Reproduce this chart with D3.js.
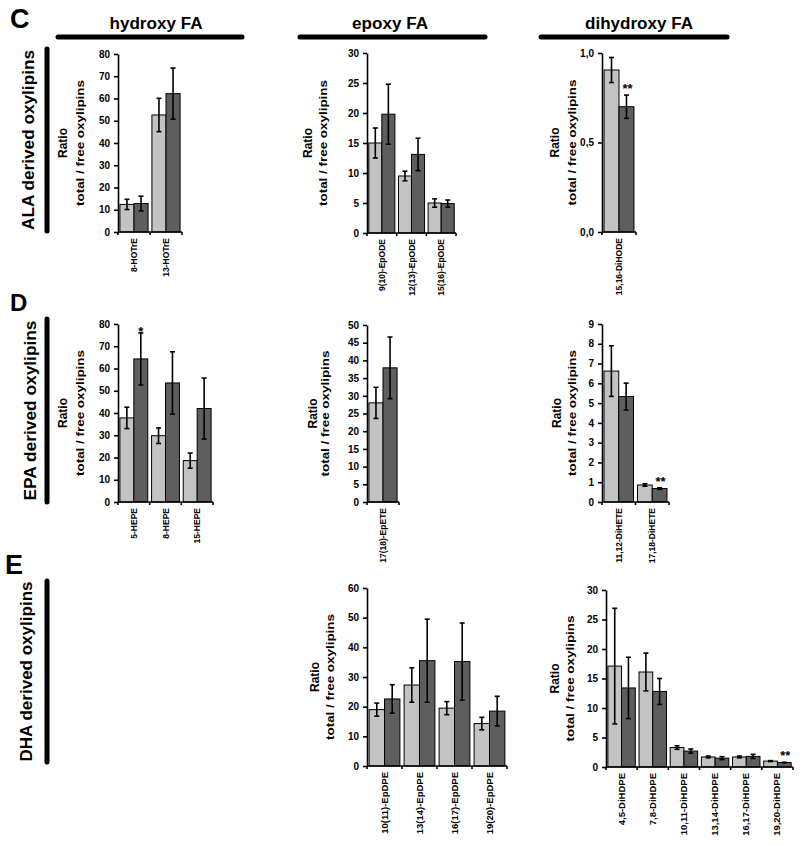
<!DOCTYPE html>
<html><head><meta charset="utf-8">
<script src="https://cdn.jsdelivr.net/npm/d3@7"></script>
<style>
body{margin:0;background:#fff;}
svg{display:block;font-family:"Liberation Sans",Arial,sans-serif;font-weight:bold;}
</style></head>
<body><svg id="chart" width="800" height="845"></svg>
<script>
// ---------------- DATA ----------------
const seriesNames = ["light", "dark"];

const alaHydroxyCats = ["8-HOTrE", "13-HOTrE"];
const alaHydroxyLight = [12.4, 52.6];
const alaHydroxyLightErr = [2.3, 7.5];
const alaHydroxyDark = [12.8, 62.2];
const alaHydroxyDarkErr = [3.3, 11.5];

const alaEpoxyCats = ["9(10)-EpODE", "12(13)-EpODE", "15(16)-EpODE"];
const alaEpoxyLight = [15.0, 9.5, 5.0];
const alaEpoxyLightErr = [2.5, 0.8, 0.7];
const alaEpoxyDark = [19.8, 13.1, 4.9];
const alaEpoxyDarkErr = [5.0, 2.7, 0.6];

const alaDihydroxyCats = ["15,16-DiHODE"];
const alaDihydroxyLight = [0.905];
const alaDihydroxyLightErr = [0.07];
const alaDihydroxyDark = [0.70];
const alaDihydroxyDarkErr = [0.065];

const epaHydroxyCats = ["5-HEPE", "8-HEPE", "15-HEPE"];
const epaHydroxyLight = [37.8, 29.8, 18.6];
const epaHydroxyLightErr = [4.8, 3.5, 3.4];
const epaHydroxyDark = [64.3, 53.5, 42.0];
const epaHydroxyDarkErr = [11.7, 14.0, 13.7];

const epaEpoxyCats = ["17(18)-EpETE"];
const epaEpoxyLight = [28.0];
const epaEpoxyLightErr = [4.4];
const epaEpoxyDark = [37.9];
const epaEpoxyDarkErr = [8.7];

const epaDihydroxyCats = ["11,12-DiHETE", "17,18-DiHETE"];
const epaDihydroxyLight = [6.62, 0.86];
const epaDihydroxyLightErr = [1.28, 0.06];
const epaDihydroxyDark = [5.33, 0.68];
const epaDihydroxyDarkErr = [0.68, 0.04];

const dhaEpoxyCats = ["10(11)-EpDPE", "13(14)-EpDPE", "16(17)-EpDPE", "19(20)-EpDPE"];
const dhaEpoxyLight = [19.0, 27.3, 19.5, 14.3];
const dhaEpoxyLightErr = [2.2, 5.8, 2.2, 2.1];
const dhaEpoxyDark = [22.6, 35.5, 35.2, 18.5];
const dhaEpoxyDarkErr = [4.8, 14.0, 13.0, 5.0];

const dhaDihydroxyCats = ["4,5-DiHDPE", "7,8-DiHDPE", "10,11-DiHDPE", "13,14-DiHDPE", "16,17-DiHDPE", "19,20-DiHDPE"];
const dhaDihydroxyLight = [17.1, 16.1, 3.3, 1.7, 1.7, 1.0];
const dhaDihydroxyLightErr = [9.8, 3.2, 0.3, 0.15, 0.15, 0.08];
const dhaDihydroxyDark = [13.4, 12.8, 2.7, 1.5, 1.8, 0.75];
const dhaDihydroxyDarkErr = [5.2, 2.2, 0.35, 0.25, 0.35, 0.05];

const columnHeaders = ["hydroxy FA", "epoxy FA", "dihydroxy FA"];
const rowLetters = ["C", "D", "E"];
const rowLabels = ["ALA derived oxylipins", "EPA derived oxylipins", "DHA derived oxylipins"];
const yTitleLine1 = "Ratio";
const yTitleLine2 = "total / free oxylipins";

// ---------------- LAYOUT ----------------
const panels = [
  {cats: alaHydroxyCats, light: alaHydroxyLight, lightErr: alaHydroxyLightErr, dark: alaHydroxyDark, darkErr: alaHydroxyDarkErr,
   yMax: 80, yStep: 10, comma: false, x0: 118, x1: 182, yTop: 54, yBot: 232, t1: 55, t2: 38, lab: 8.5, stars: []},
  {cats: alaEpoxyCats, light: alaEpoxyLight, lightErr: alaEpoxyLightErr, dark: alaEpoxyDark, darkErr: alaEpoxyDarkErr,
   yMax: 30, yStep: 5, comma: false, x0: 367, x1: 456, yTop: 53, yBot: 233, t1: 59, t2: 44, lab: 8.5, stars: []},
  {cats: alaDihydroxyCats, light: alaDihydroxyLight, lightErr: alaDihydroxyLightErr, dark: alaDihydroxyDark, darkErr: alaDihydroxyDarkErr,
   yMax: 1, yStep: 0.5, comma: true, x0: 602, x1: 636, yTop: 53, yBot: 232, t1: 47, t2: 30, lab: 8.5, stars: [{i: 0, text: "**"}]},
  {cats: epaHydroxyCats, light: epaHydroxyLight, lightErr: epaHydroxyLightErr, dark: epaHydroxyDark, darkErr: epaHydroxyDarkErr,
   yMax: 80, yStep: 10, comma: false, x0: 118, x1: 213, yTop: 324, yBot: 502, t1: 55, t2: 38, lab: 8.5, stars: [{i: 0, text: "*", above: true}]},
  {cats: epaEpoxyCats, light: epaEpoxyLight, lightErr: epaEpoxyLightErr, dark: epaEpoxyDark, darkErr: epaEpoxyDarkErr,
   yMax: 50, yStep: 5, comma: false, x0: 367, x1: 399, yTop: 325, yBot: 502, t1: 54, t2: 42, lab: 8.5, stars: []},
  {cats: epaDihydroxyCats, light: epaDihydroxyLight, lightErr: epaDihydroxyLightErr, dark: epaDihydroxyDark, darkErr: epaDihydroxyDarkErr,
   yMax: 9, yStep: 1, comma: false, x0: 602, x1: 669, yTop: 324, yBot: 502, t1: 45, t2: 30, lab: 8.5, stars: [{i: 1, text: "**"}]},
  {cats: dhaEpoxyCats, light: dhaEpoxyLight, lightErr: dhaEpoxyLightErr, dark: dhaEpoxyDark, darkErr: dhaEpoxyDarkErr,
   yMax: 60, yStep: 10, comma: false, x0: 367, x1: 507, yTop: 588, yBot: 766, t1: 52, t2: 37, lab: 9.5, stars: []},
  {cats: dhaDihydroxyCats, light: dhaDihydroxyLight, lightErr: dhaDihydroxyLightErr, dark: dhaDihydroxyDark, darkErr: dhaDihydroxyDarkErr,
   yMax: 30, yStep: 5, comma: false, x0: 606, x1: 793, yTop: 590, yBot: 767, t1: 51, t2: 36, lab: 9.5, stars: [{i: 5, text: "**"}]}
];

const LIGHT = "#c3c3c3", DARK = "#5e5e5e";
const svg = d3.select("#chart");

// headers
const headerPos = [{cx: 156, bx0: 58, bx1: 242}, {cx: 390, bx0: 300, bx1: 485}, {cx: 639, bx0: 541, bx1: 727}];
const headerW = [93, 76, 108];
columnHeaders.forEach((h, i) => {
  svg.append("text").attr("x", headerPos[i].cx).attr("y", 29).attr("text-anchor", "middle")
    .attr("font-size", 16).attr("textLength", headerW[i]).attr("lengthAdjust", "spacingAndGlyphs").text(h);
  svg.append("line").attr("x1", headerPos[i].bx0).attr("x2", headerPos[i].bx1).attr("y1", 37).attr("y2", 37)
    .attr("stroke", "#000").attr("stroke-width", 5).attr("stroke-linecap", "round");
});

// row letters and labels
const letterPos = [{x: 10, y: 28, s: 27}, {x: 10, y: 311, s: 24}, {x: 5, y: 574, s: 27}];
const rowBar = [{y0: 49, y1: 231}, {y0: 319, y1: 502}, {y0: 581, y1: 762}];
const rowLabelX = [28, 30, 26];
rowLetters.forEach((l, i) => {
  svg.append("text").attr("x", letterPos[i].x).attr("y", letterPos[i].y).attr("font-size", letterPos[i].s)
    .attr("font-weight", "900").text(l);
  svg.append("line").attr("x1", 47).attr("x2", 47).attr("y1", rowBar[i].y0).attr("y2", rowBar[i].y1)
    .attr("stroke", "#000").attr("stroke-width", 5).attr("stroke-linecap", "round");
  const cy = (rowBar[i].y0 + rowBar[i].y1) / 2;
  svg.append("text").attr("transform", `translate(${rowLabelX[i]},${cy}) rotate(-90)`)
    .attr("text-anchor", "middle").attr("dominant-baseline", "central").attr("font-size", 17)
    .attr("textLength", 180).attr("lengthAdjust", "spacingAndGlyphs").text(rowLabels[i]);
});

// panels
panels.forEach(p => {
  const g = svg.append("g");
  const y = d3.scaleLinear().domain([0, p.yMax]).range([p.yBot, p.yTop]);
  const pi = 0.12, po = 0.06;
  const x = d3.scaleBand().domain(p.cats).range([p.x0, p.x1]).paddingInner(pi).paddingOuter(po);
  const step = x.step();
  const bw = x.bandwidth() / 2;

  // y axis
  const ticks = d3.range(0, p.yMax + p.yStep / 2, p.yStep);
  const fmt = p.comma ? (d => d.toFixed(1).replace(".", ",")) : (d => String(d));
  const ax = g.append("g").attr("transform", `translate(${p.x0},0)`)
    .call(d3.axisLeft(y).tickValues(ticks).tickFormat(fmt).tickSize(4).tickSizeOuter(0).tickPadding(4));
  ax.select(".domain").attr("stroke-width", 1.6).attr("stroke", "#000");
  ax.selectAll(".tick line").attr("stroke-width", 1.6);
  ax.selectAll(".tick text").attr("font-size", 10).attr("font-family", '"Liberation Sans",Arial,sans-serif')
    .attr("font-weight", "bold").attr("fill", "#000");

  // y title
  const cy = (p.yTop + p.yBot) / 2;
  g.append("text").attr("transform", `translate(${p.x0 - p.t1},${cy}) rotate(-90)`)
    .attr("text-anchor", "middle").attr("dominant-baseline", "central").attr("font-size", 12).text(yTitleLine1);
  g.append("text").attr("transform", `translate(${p.x0 - p.t2},${cy}) rotate(-90)`)
    .attr("text-anchor", "middle").attr("dominant-baseline", "central").attr("font-size", 11)
    .attr("textLength", 126).attr("lengthAdjust", "spacingAndGlyphs").text(yTitleLine2);

  // bars
  const rows = p.cats.map((c, i) => ({c, i, l: p.light[i], le: p.lightErr[i], d: p.dark[i], de: p.darkErr[i]}));
  const bars = [];
  rows.forEach(r => {
    bars.push({x: x(r.c), v: r.l, e: r.le, fill: LIGHT});
    bars.push({x: x(r.c) + bw, v: r.d, e: r.de, fill: DARK});
  });
  g.selectAll("rect.bar").data(bars).join("rect").attr("class", "bar")
    .attr("x", d => d.x).attr("width", bw).attr("y", d => y(d.v)).attr("height", d => y(0) - y(d.v))
    .attr("fill", d => d.fill).attr("stroke", "#000").attr("stroke-width", 1);
  // error bars
  bars.forEach(b => {
    const cx = b.x + bw / 2;
    g.append("line").attr("x1", cx).attr("x2", cx).attr("y1", y(b.v + b.e)).attr("y2", y(Math.max(0, b.v - b.e)))
      .attr("stroke", "#000").attr("stroke-width", 1.6);
    [b.v + b.e, b.v - b.e].forEach(v => {
      g.append("line").attr("x1", cx - 2.5).attr("x2", cx + 2.5).attr("y1", y(v)).attr("y2", y(v))
        .attr("stroke", "#000").attr("stroke-width", 1.6);
    });
  });

  // x axis
  g.append("line").attr("x1", p.x0).attr("x2", p.x1).attr("y1", p.yBot).attr("y2", p.yBot)
    .attr("stroke", "#000").attr("stroke-width", 1.6);
  const bounds = p.cats.map(c => x(c) - step * pi / 2).concat([x(p.cats[p.cats.length - 1]) + x.bandwidth() + step * pi / 2]);
  bounds.forEach(bx => {
    g.append("line").attr("x1", bx).attr("x2", bx).attr("y1", p.yBot).attr("y2", p.yBot + 3)
      .attr("stroke", "#000").attr("stroke-width", 1.6);
  });
  // category labels
  p.cats.forEach(c => {
    const cx = x(c) + x.bandwidth() / 2;
    g.append("text").attr("transform", `translate(${cx + 3},${p.yBot + 6}) rotate(-90)`)
      .attr("text-anchor", "end").attr("font-size", p.lab).text(c);
  });
  // significance stars
  p.stars.forEach(s => {
    const r = rows[s.i];
    const cx = x(r.c) + bw * 1.5;
    if (s.above) {
      g.append("text").attr("x", cx).attr("y", y(r.d + r.de) + 3).attr("text-anchor", "middle")
        .attr("font-size", 13).text(s.text);
    } else {
      g.append("text").attr("x", cx + 1).attr("y", y(r.d + r.de) - 2).attr("text-anchor", "middle")
        .attr("font-size", 13).text(s.text);
    }
  });
});
</script>
</body></html>
